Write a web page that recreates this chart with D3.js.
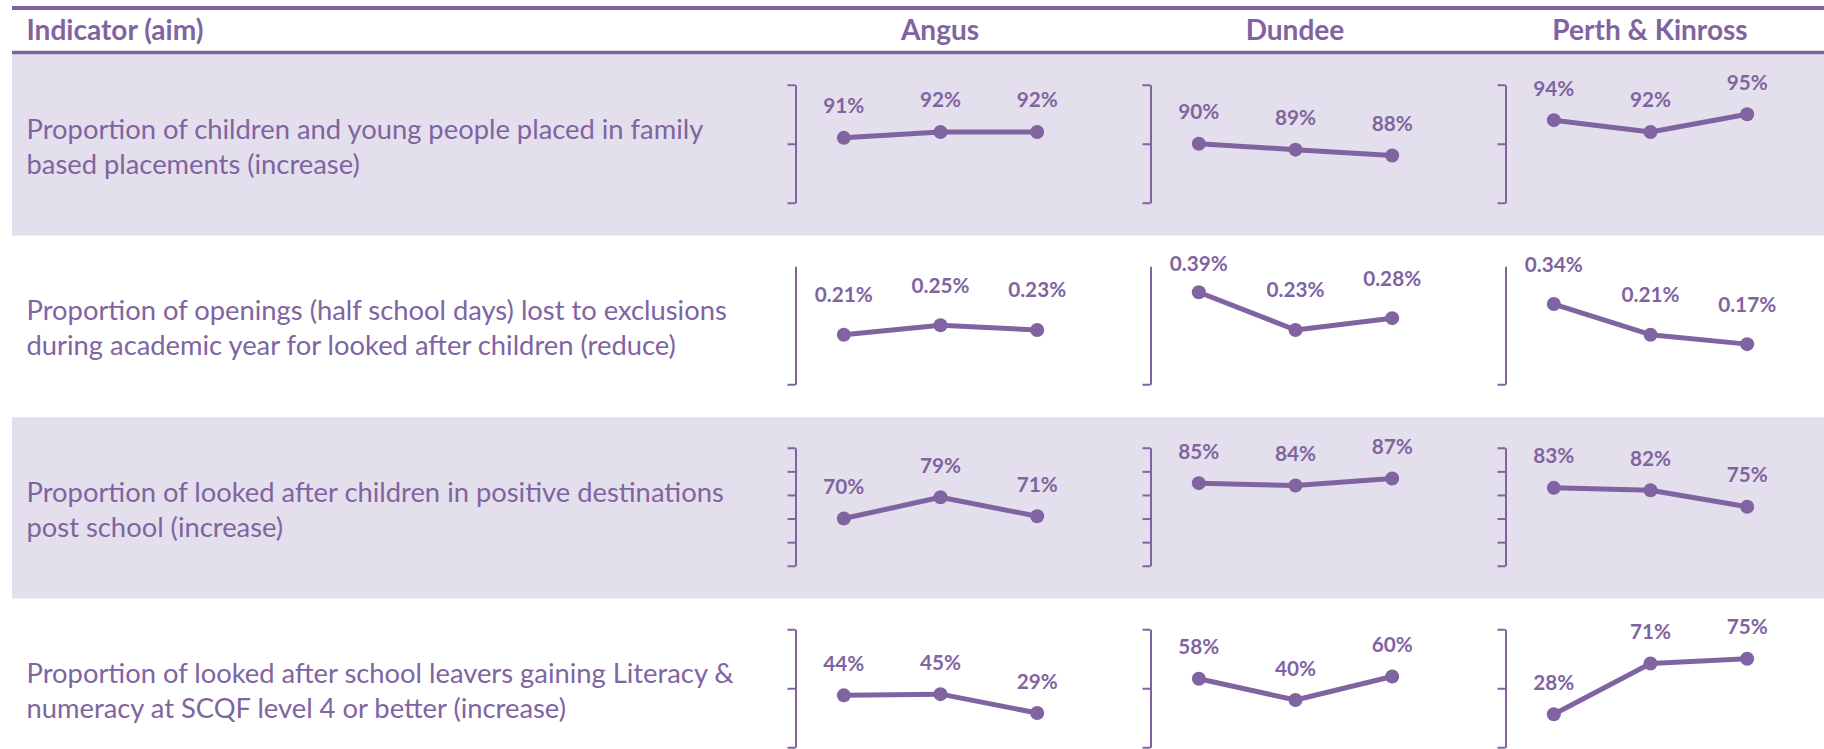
<!DOCTYPE html>
<html>
<head>
<meta charset="utf-8">
<script src="https://cdn.jsdelivr.net/npm/d3@7"></script>
<style>
  html, body { margin: 0; padding: 0; background: #ffffff; }
  svg { display: block; }
  text { font-family: Lato, "Open Sans", sans-serif; }
</style>
</head>
<body>
<svg id="chart" width="1824" height="749"></svg>
<script>
// ---------------- DATA ----------------
const headerIndicator = "Indicator (aim)";
const regions = ["Angus", "Dundee", "Perth & Kinross"];
const periods = ["Period 1", "Period 2", "Period 3"]; // categories (not labelled in the original)

const indicatorLines = [
  ["Proportion of children and young people placed in family", "based placements (increase)"],
  ["Proportion of openings (half school days) lost to exclusions", "during academic year for looked after children (reduce)"],
  ["Proportion of looked after children in positive destinations", "post school (increase)"],
  ["Proportion of looked after school leavers gaining Literacy &", "numeracy at SCQF level 4 or better (increase)"]
];

const angusValues  = [[0.91, 0.92, 0.92], [0.0021, 0.0025, 0.0023], [0.70, 0.79, 0.71], [0.44, 0.45, 0.29]];
const dundeeValues = [[0.90, 0.89, 0.88], [0.0039, 0.0023, 0.0028], [0.85, 0.84, 0.87], [0.58, 0.40, 0.60]];
const perthValues  = [[0.94, 0.92, 0.95], [0.0034, 0.0021, 0.0017], [0.83, 0.82, 0.75], [0.28, 0.71, 0.75]];

const axisDomains = [[0.8, 1], [0, 0.005], [0.5, 1], [0, 1]];
const axisTicks   = [[0.8, 0.9, 1], [0], [0.5, 0.6, 0.7, 0.8, 0.9, 1], [0, 0.5, 1]];
const labelFormats = [".0%", ".2%", ".0%", ".0%"];

// ---------------- STYLE / LAYOUT ----------------
const W = 1824, H = 749;
const purple = "#8064A2";
const shade = "#E4DFEC";
const leftX = 12;
const headerTopY = 8, headerBottomY = 52.5;
const rowTop0 = 54.25, rowH = 181.5;
const colLeft0 = 762.5, colW = 355;
const axisOffset = 33, plotW = 290;
const axisTopPad = 30.5, axisBottomPad = 148.5;
const labelOffsets = [24.5, 32.5, 24.5, 24.5];

const svg = d3.select("#chart");
const allValues = [angusValues, dundeeValues, perthValues];

// font fitting helper
function fitSize(text, weight, targetWidth) {
  const t = svg.append("text").attr("font-size", 100).attr("font-weight", weight).text(text);
  const w = t.node().getComputedTextLength();
  t.remove();
  return 100 * targetWidth / w;
}
const headerSize = fitSize(headerIndicator, "bold", 177);
const bodySize = fitSize(indicatorLines[0][0], "normal", 677);
const labelSize = fitSize("0.21%", "bold", 58);

// row shading
const rows = d3.range(indicatorLines.length);
svg.selectAll("rect.row").data(rows).join("rect")
  .attr("class", "row")
  .attr("x", leftX).attr("width", W - leftX)
  .attr("y", i => rowTop0 + i * rowH).attr("height", rowH)
  .attr("fill", (i) => i % 2 === 0 ? shade : "#ffffff");

// header lines
[[headerTopY, 4], [headerBottomY, 3.6]].forEach(([y, w]) => {
  svg.append("line").attr("x1", leftX).attr("x2", W).attr("y1", y).attr("y2", y)
    .attr("stroke", purple).attr("stroke-width", w);
});

// header texts
svg.append("text").attr("x", 26.5).attr("y", 39.5)
  .attr("font-size", headerSize).attr("font-weight", "bold").attr("fill", purple)
  .text(headerIndicator);
svg.selectAll("text.colhead").data(regions).join("text")
  .attr("class", "colhead")
  .attr("x", (d, j) => colLeft0 + j * colW + colW / 2).attr("y", 39.5)
  .attr("text-anchor", "middle")
  .attr("font-size", headerSize).attr("font-weight", "bold").attr("fill", purple)
  .text(d => d);

// indicator descriptions
rows.forEach(i => {
  const top = rowTop0 + i * rowH;
  svg.append("g").selectAll("text").data(indicatorLines[i]).join("text")
    .attr("x", 26.5).attr("y", (d, k) => top + 84.5 + k * 35)
    .attr("font-size", bodySize).attr("fill", purple)
    .text(d => d);
});

// mini line charts
rows.forEach(i => {
  const top = rowTop0 + i * rowH;
  const y = d3.scaleLinear().domain(axisDomains[i]).range([top + axisBottomPad, top + axisTopPad]);
  const fmt = d3.format(labelFormats[i]);
  regions.forEach((r, j) => {
    const ax = colLeft0 + j * colW + axisOffset;
    const x = d3.scalePoint().domain(periods).range([ax, ax + plotW]).padding(0.5);
    const g = svg.append("g");
    const axisG = g.append("g").attr("transform", `translate(${ax},0)`)
      .call(d3.axisLeft(y).tickValues(axisTicks[i]).tickSize(8).tickSizeOuter(0).tickFormat(""));
    axisG.selectAll("path, line").attr("stroke", purple).attr("stroke-width", 2);

    const vals = allValues[j][i];
    const pts = periods.map((p, k) => ({ p, v: vals[k] }));
    g.append("path").datum(pts)
      .attr("fill", "none").attr("stroke", purple).attr("stroke-width", 5)
      .attr("stroke-linejoin", "round")
      .attr("d", d3.line().x(d => x(d.p)).y(d => y(d.v)));
    g.selectAll("circle").data(pts).join("circle")
      .attr("cx", d => x(d.p)).attr("cy", d => y(d.v)).attr("r", 7)
      .attr("fill", purple);
    g.selectAll("text.lbl").data(pts).join("text")
      .attr("class", "lbl")
      .attr("x", d => x(d.p))
      .attr("y", d => Math.max(y(d.v) - labelOffsets[i], top + axisTopPad + 5))
      .attr("text-anchor", "middle")
      .attr("font-size", labelSize).attr("font-weight", "bold").attr("fill", purple)
      .text(d => fmt(d.v));
  });
});
</script>
</body>
</html>
